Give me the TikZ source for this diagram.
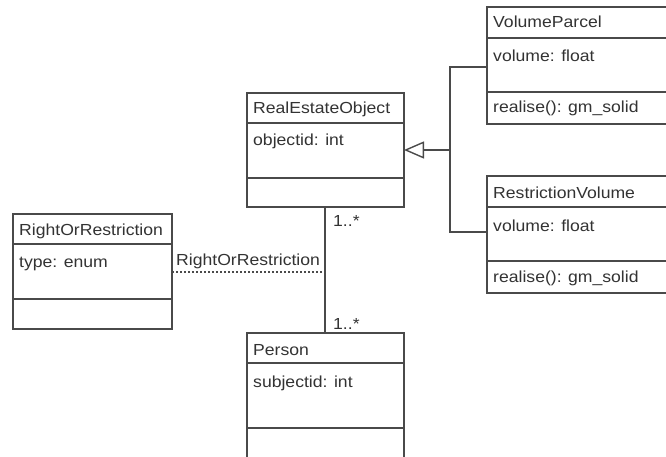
\documentclass[tikz,border=0pt]{standalone}
\usepackage{fontspec}
\setmainfont{Liberation Sans}[FakeStretch=1.1]
\usetikzlibrary{arrows.meta}
\definecolor{ln}{HTML}{4A4A4A}
\definecolor{tx}{HTML}{333333}
\tikzset{
  umlbox/.style={draw=ln, line width=1.4pt, fill=white, rectangle, anchor=north west, outer sep=0pt, inner sep=0pt},
  divline/.style={draw=ln, line width=1.4pt},
  conn/.style={draw=ln, line width=1.4pt},
  lbl/.style={anchor=base west, inner sep=0pt, text=tx, font=\fontsize{16}{19}\selectfont},
}
\begin{document}
\begin{tikzpicture}[x=1pt,y=-1pt]
\useasboundingbox (0,0) rectangle (666,457);
\clip (0,0) rectangle (666,457);
% boxes
\node[umlbox, minimum width=157pt, minimum height=114pt] (reo) at (247,93) {};
\node[umlbox, minimum width=190pt, minimum height=117pt] (vp) at (487,7) {};
\node[umlbox, minimum width=190pt, minimum height=117pt] (rv) at (487,176) {};
\node[umlbox, minimum width=159pt, minimum height=115pt] (ror) at (13,214) {};
\node[umlbox, minimum width=157pt, minimum height=140pt] (per) at (247,333) {};
% dividers
\draw[divline] (reo.north west) ++(0,30) -- ++(157,0);
\draw[divline] (reo.north west) ++(0,85) -- ++(157,0);
\draw[divline] (vp.north west) ++(0,31) -- ++(190,0);
\draw[divline] (vp.north west) ++(0,85) -- ++(190,0);
\draw[divline] (rv.north west) ++(0,31) -- ++(190,0);
\draw[divline] (rv.north west) ++(0,85) -- ++(190,0);
\draw[divline] (ror.north west) ++(0,30) -- ++(159,0);
\draw[divline] (ror.north west) ++(0,85) -- ++(159,0);
\draw[divline] (per.north west) ++(0,30) -- ++(157,0);
\draw[divline] (per.north west) ++(0,95) -- ++(157,0);
% texts
\node[lbl] (reoT) at (253,114) {RealEstateObject};
\node[lbl] (reoA) at (253,146) {objectid: int};
\node[lbl] (vpT) at (493,28) {VolumeParcel};
\node[lbl] (vpA) at (493,62) {volume: float};
\node[lbl] (vpM) at (493,113) {realise(): gm\_solid};
\node[lbl] (rvT) at (493,198) {RestrictionVolume};
\node[lbl] (rvA) at (493,231) {volume: float};
\node[lbl] (rvM) at (493,282) {realise(): gm\_solid};
\node[lbl] (rorT) at (19,235) {RightOrRestriction};
\node[lbl] (rorA) at (19,267) {type: enum};
\node[lbl] (perT) at (253,355) {Person};
\node[lbl] (perA) at (253,387) {subjectid: int};
% generalisation
\coordinate (tip) at (reo.east |- 0,150);
\coordinate (jn) at (450,150);
\coordinate (vpin) at (vp.west |- 0,67);
\coordinate (rvin) at (rv.west |- 0,232);
\draw[conn] (vpin) -| (jn) |- (rvin);
\draw[conn, -{Triangle[open, length=20pt, width=17pt, fill=white]}] (jn) -- (tip);
% association
\coordinate (reoB) at (reo.south -| 325,0);
\coordinate (perT0) at (per.north -| 325,0);
\coordinate (mid) at (325,272);
\draw[conn] (reoB) -- (perT0);
\draw[draw=ln, line width=1.2pt, dash pattern=on 2pt off 2pt] (ror.east |- mid) -- (mid);
\node[lbl] (assocL) at (176,265) {RightOrRestriction};
\node[lbl] (m1) at (333,226) {1..*};
\node[lbl] (m2) at (333,329) {1..*};
\end{tikzpicture}
\end{document}
